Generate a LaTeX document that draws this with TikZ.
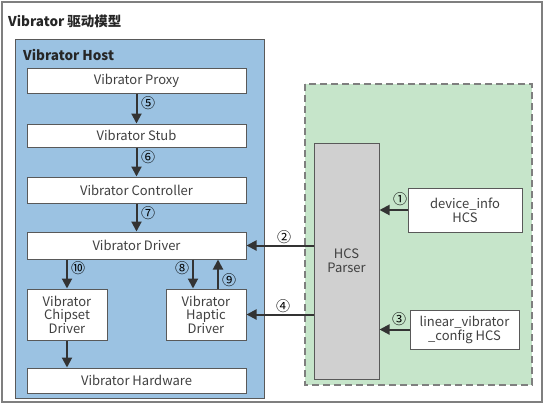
\documentclass[tikz,border=0pt]{standalone}
\usepackage{fontspec}
\setmainfont{Noto Sans CJK SC}
\usetikzlibrary{arrows.meta}
\definecolor{hostblue}{HTML}{9BC2E2}
\definecolor{cfggreen}{HTML}{C6E5CA}
\definecolor{parsergray}{HTML}{D0D0D0}
\definecolor{linegray}{HTML}{595959}
\definecolor{framegray}{HTML}{7F7F7F}
\definecolor{arrowgray}{HTML}{333333}
\definecolor{txtgray}{HTML}{404040}
\tikzset{
  box/.style={draw=linegray, line width=1pt, fill=white, text=txtgray,
    font=\fontsize{13}{15}\selectfont, align=center, inner sep=0pt},
  flow/.style={-{Triangle[length=10pt,width=10pt]}, line width=2pt, draw=arrowgray},
  num/.style={font=\fontsize{14}{15}\selectfont, text=black, inner sep=0pt},
  heading/.style={font=\fontsize{13.5}{16}\selectfont\bfseries, text=black!85, inner sep=0pt, anchor=west}
}
\begin{document}
\begin{tikzpicture}[x=1pt,y=-1pt]
\useasboundingbox (0,0) rectangle (545,405);
% outer frame
\draw[framegray, line width=1.5pt, fill=white] (2,2) rectangle (542,402);
\node[heading] (title) at (8,21) {Vibrator 驱动模型};
% host
\draw[linegray, line width=1pt, fill=hostblue] (15,39) rectangle (264,398);
\node[heading] (hosttitle) at (23,55) {Vibrator Host};
% config area
\draw[framegray, line width=1.5pt, fill=cfggreen, dash pattern=on 7pt off 4pt] (305,84) rectangle (532,385);
% boxes
\node[box, minimum width=219pt, minimum height=25pt] (proxy) at (136.5,80.5) {Vibrator Proxy};
\node[box, minimum width=219pt, minimum height=23pt] (stub) at (136.5,135.5) {Vibrator Stub};
\node[box, minimum width=219pt, minimum height=26pt] (ctrl) at (136.5,190) {Vibrator Controller};
\node[box, minimum width=219pt, minimum height=27pt] (driver) at (136.5,245.5) {Vibrator Driver};
\node[box, minimum width=80pt, minimum height=51pt] (chipset) at (67,314.5) {Vibrator\\[-1.5pt]Chipset\\[-1.5pt]Driver};
\node[box, minimum width=80pt, minimum height=51pt] (haptic) at (206,314.5) {Vibrator\\[-1.5pt]Haptic\\[-1.5pt]Driver};
\node[box, minimum width=219pt, minimum height=25pt] (hw) at (136.5,380.5) {Vibrator Hardware};
\node[box, fill=parsergray, minimum width=65pt, minimum height=236pt] (parser) at (346.5,261) {HCS\\[-1pt]Parser};
\node[box, minimum width=114pt, minimum height=44pt] (devinfo) at (465,210) {device\_info\\[-1pt]HCS};
\node[box, minimum width=109pt, minimum height=39pt] (linear) at (464.5,329.5) {linear\_vibrator\\[-1pt]\_config HCS};
% vertical flows
\draw[flow] (proxy.south) -- (stub.north);
\draw[flow] (stub.south) -- (ctrl.north);
\draw[flow] (ctrl.south) -- (driver.north);
\draw[flow] (driver.south -| chipset.north) -- (chipset.north);
\draw[flow] (chipset.south) -- (hw.north -| chipset.south);
\coordinate (c8) at (193,0);
\coordinate (c9) at (218,0);
\draw[flow] (c8 |- driver.south) -- (c8 |- haptic.north);
\draw[flow] (c9 |- haptic.north) -- (c9 |- driver.south);
% horizontal flows
\draw[flow] (devinfo.west) -- (devinfo.west -| parser.east);
\draw[flow] (linear.west) -- (linear.west -| parser.east);
\draw[flow] (driver.east -| parser.west) -- (driver.east);
\draw[flow] (haptic.east -| parser.west) -- (haptic.east);
% labels
\node[num] (n5) at (148,103) {⑤};
\node[num] (n6) at (148,157) {⑥};
\node[num] (n7) at (148,213) {⑦};
\node[num] (n10) at (78,268) {⑩};
\node[num] (n8) at (182,268) {⑧};
\node[num] (n9) at (229,280) {⑨};
\node[num] (n1) at (400,199) {①};
\node[num] (n3) at (399,319) {③};
\node[num] (n2) at (284,237) {②};
\node[num] (n4) at (283,306) {④};
\end{tikzpicture}
\end{document}
